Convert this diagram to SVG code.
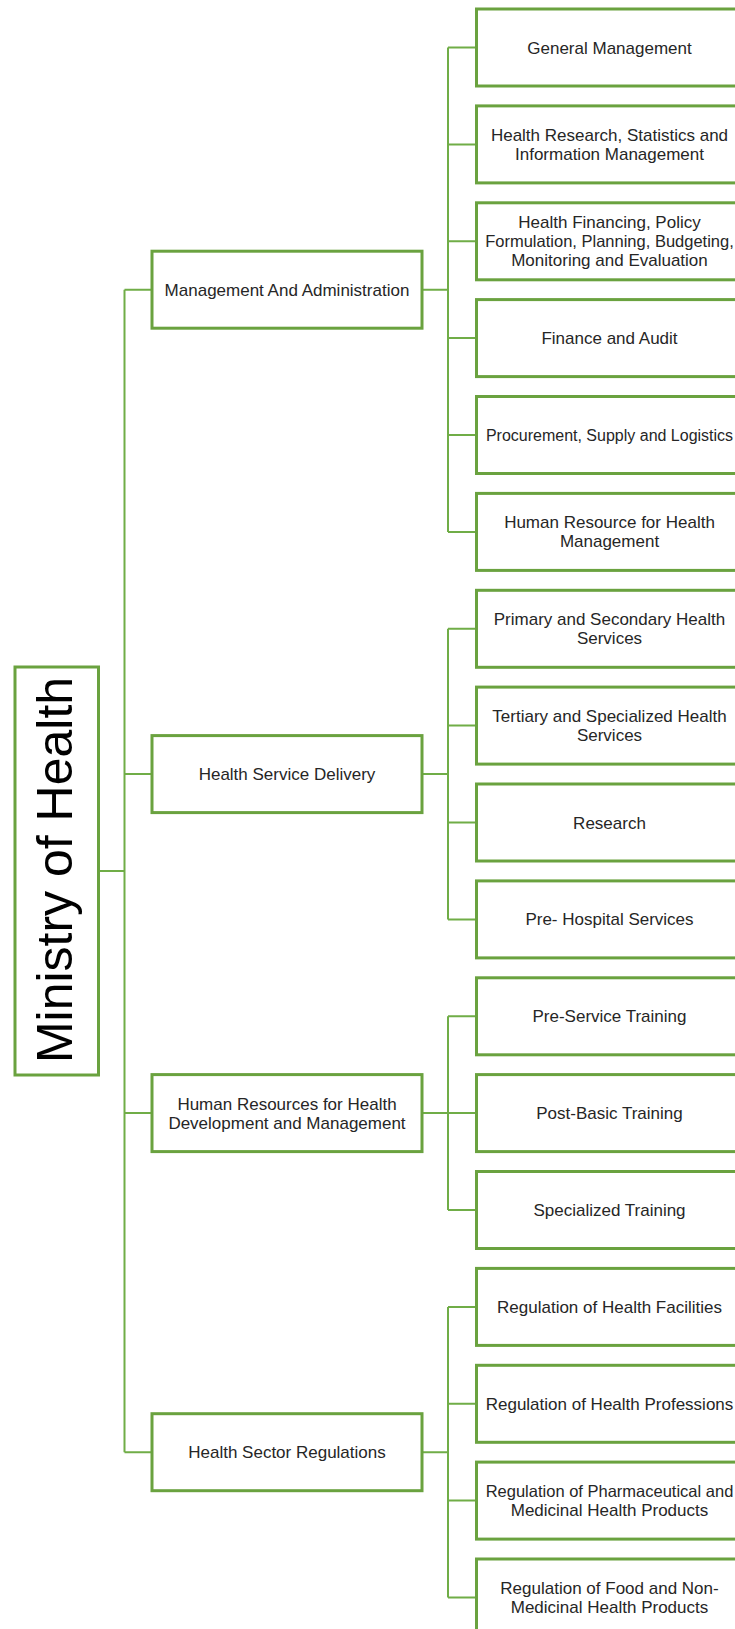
<svg xmlns="http://www.w3.org/2000/svg" width="735" height="1629" viewBox="0 0 735 1629">
<style>
.box{fill:#ffffff;stroke:#6aa23f;stroke-width:3}
.root{fill:#ffffff;stroke:#6aa23f;stroke-width:3}
.con{fill:none;stroke:#70ad47;stroke-width:2}
.lbl{font-family:"Liberation Sans",Arial,sans-serif;font-size:17px;fill:#262626;text-anchor:middle}
.fit{font-size:16.5px}
.fit2{font-size:16px}
.big{font-family:"Liberation Sans",Arial,sans-serif;font-size:50px;fill:#000000;text-anchor:middle}
</style>
<rect width="735" height="1629" fill="#ffffff"/>
<g id="connectors">
<path class="con" d="M98.5 871H124.5M124.5 289.7V1452.2M124.5 289.7H152M124.5 774.1H152M124.5 1113.1H152M124.5 1452.2H152"/>
<path class="con" d="M422 289.7H448M448 47.5V531.9M448 47.5H476.5M448 144.4H476.5M448 241.3H476.5M448 338.1H476.5M448 435H476.5M448 531.9H476.5"/>
<path class="con" d="M422 774.1H448M448 628.8V919.4M448 628.8H476.5M448 725.6H476.5M448 822.5H476.5M448 919.4H476.5"/>
<path class="con" d="M422 1113.1H448M448 1016.3V1210M448 1016.3H476.5M448 1113.1H476.5M448 1210H476.5"/>
<path class="con" d="M422 1452.2H448M448 1306.9V1597.5M448 1306.9H476.5M448 1403.8H476.5M448 1500.6H476.5M448 1597.5H476.5"/>
</g>
<g id="ministry">
<rect class="root" x="15" y="667" width="83.5" height="408"/>
<text class="big" transform="translate(72,870) rotate(-90)">Ministry of Health</text>
</g>
<g id="mgmt-admin">
<rect class="box" x="152" y="251.2" width="270" height="77"/>
<text class="lbl" x="287" y="295.7">Management And Administration</text>
</g>
<g id="health-service-delivery">
<rect class="box" x="152" y="735.6" width="270" height="77"/>
<text class="lbl" x="287" y="780.1">Health Service Delivery</text>
</g>
<g id="hr-dev-mgmt">
<rect class="box" x="152" y="1074.6" width="270" height="77"/>
<text class="lbl" x="287" y="1109.6">Human Resources for Health</text>
<text class="lbl" x="287" y="1128.6">Development and Management</text>
</g>
<g id="health-sector-regulations">
<rect class="box" x="152" y="1413.7" width="270" height="77"/>
<text class="lbl" x="287" y="1458.2">Health Sector Regulations</text>
</g>
<g id="general-management">
<rect class="box" x="476.5" y="9" width="266" height="77"/>
<text class="lbl" x="609.5" y="53.5">General Management</text>
</g>
<g id="health-research">
<rect class="box" x="476.5" y="105.9" width="266" height="77"/>
<text class="lbl" x="609.5" y="140.9">Health Research, Statistics and</text>
<text class="lbl" x="609.5" y="159.9">Information Management</text>
</g>
<g id="health-financing">
<rect class="box" x="476.5" y="202.8" width="266" height="77"/>
<text class="lbl" x="609.5" y="228.3">Health Financing, Policy</text>
<text class="lbl fit" x="609.5" y="247.3">Formulation, Planning, Budgeting,</text>
<text class="lbl" x="609.5" y="266.3">Monitoring and Evaluation</text>
</g>
<g id="finance-audit">
<rect class="box" x="476.5" y="299.6" width="266" height="77"/>
<text class="lbl" x="609.5" y="344.1">Finance and Audit</text>
</g>
<g id="procurement">
<rect class="box" x="476.5" y="396.5" width="266" height="77"/>
<text class="lbl fit2" x="609.5" y="440.8">Procurement, Supply and Logistics</text>
</g>
<g id="hr-health-management">
<rect class="box" x="476.5" y="493.4" width="266" height="77"/>
<text class="lbl" x="609.5" y="528.4">Human Resource for Health</text>
<text class="lbl" x="609.5" y="547.4">Management</text>
</g>
<g id="primary-secondary">
<rect class="box" x="476.5" y="590.3" width="266" height="77"/>
<text class="lbl" x="609.5" y="625.3">Primary and Secondary Health</text>
<text class="lbl" x="609.5" y="644.3">Services</text>
</g>
<g id="tertiary-specialized">
<rect class="box" x="476.5" y="687.1" width="266" height="77"/>
<text class="lbl" x="609.5" y="722.1">Tertiary and Specialized Health</text>
<text class="lbl" x="609.5" y="741.1">Services</text>
</g>
<g id="research">
<rect class="box" x="476.5" y="784" width="266" height="77"/>
<text class="lbl" x="609.5" y="828.5">Research</text>
</g>
<g id="pre-hospital">
<rect class="box" x="476.5" y="880.9" width="266" height="77"/>
<text class="lbl" x="609.5" y="925.4">Pre- Hospital Services</text>
</g>
<g id="pre-service-training">
<rect class="box" x="476.5" y="977.8" width="266" height="77"/>
<text class="lbl" x="609.5" y="1022.3">Pre-Service Training</text>
</g>
<g id="post-basic-training">
<rect class="box" x="476.5" y="1074.6" width="266" height="77"/>
<text class="lbl" x="609.5" y="1119.1">Post-Basic Training</text>
</g>
<g id="specialized-training">
<rect class="box" x="476.5" y="1171.5" width="266" height="77"/>
<text class="lbl" x="609.5" y="1216">Specialized Training</text>
</g>
<g id="reg-health-facilities">
<rect class="box" x="476.5" y="1268.4" width="266" height="77"/>
<text class="lbl" x="609.5" y="1312.9">Regulation of Health Facilities</text>
</g>
<g id="reg-health-professions">
<rect class="box" x="476.5" y="1365.3" width="266" height="77"/>
<text class="lbl" x="609.5" y="1409.8">Regulation of Health Professions</text>
</g>
<g id="reg-pharmaceutical">
<rect class="box" x="476.5" y="1462.1" width="266" height="77"/>
<text class="lbl fit" x="609.5" y="1497.1">Regulation of Pharmaceutical and</text>
<text class="lbl" x="609.5" y="1516.1">Medicinal Health Products</text>
</g>
<g id="reg-food">
<rect class="box" x="476.5" y="1559" width="266" height="77"/>
<text class="lbl" x="609.5" y="1594">Regulation of Food and Non-</text>
<text class="lbl" x="609.5" y="1613">Medicinal Health Products</text>
</g>
</svg>
